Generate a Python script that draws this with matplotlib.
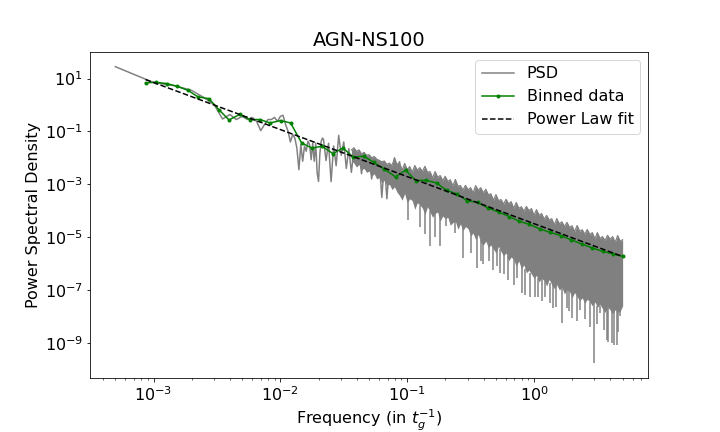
import numpy as np
import matplotlib
matplotlib.use("Agg")
import matplotlib.pyplot as plt

# ---- PSD, low frequencies (first FFT bins, f = k * 5e-4) ----
psd_freq_low = np.arange(1, 44) * 5e-4
psd_logp_low = [1.45, 0.85, 0.72, 0.55, 0.28, 0.02, -0.53, -0.36, -0.55, -0.43,
                -0.55, -0.47, -0.62, -0.97, -0.74, -0.55, -0.55, -0.47, -0.62, -0.43,
                -0.39, -0.74, -0.99, -1.40, -1.12, -1.25, -1.63, -2.45, -1.50, -2.13,
                -1.56, -1.75, -1.37, -1.50, -2.07, -1.44, -2.13, -1.44, -2.57, -2.89,
                -1.82, -1.37, -1.25]

# ---- PSD, middle frequencies (read as a zig-zag) ----
psd_logf_mid = [-1.66, -1.64, -1.62, -1.60, -1.58, -1.56, -1.54, -1.52, -1.50, -1.48,
                -1.46, -1.44, -1.42, -1.40, -1.38, -1.36, -1.34, -1.32, -1.30, -1.28,
                -1.26, -1.24, -1.22, -1.20, -1.18, -1.16, -1.14, -1.12, -1.10, -1.08,
                -1.06]
psd_logp_mid = [-1.30, -2.10, -1.45, -2.90, -1.55, -2.30, -1.15, -1.90, -1.40, -2.40,
                -1.65, -2.55, -1.70, -2.20, -1.75, -2.60, -1.80, -2.35, -1.95, -2.80,
                -2.00, -2.70, -2.10, -3.50, -2.20, -3.55, -2.25, -2.90, -2.00, -2.70,
                -2.15]

# ---- PSD, dense part: upper edge and solid floor of the noisy band ----
band_logf = [-1.44, -1.42, -1.40, -1.38, -1.36, -1.34, -1.32, -1.30, -1.28, -1.26,
             -1.24, -1.22, -1.20, -1.18, -1.16, -1.14, -1.12, -1.10, -1.08,
             -1.06, -1.04, -1.02, -1.00, -0.98, -0.96, -0.94, -0.92, -0.90, -0.88,
             -0.86, -0.84, -0.82, -0.80, -0.78, -0.76, -0.74, -0.72, -0.70, -0.68,
             -0.66, -0.64, -0.62, -0.60, -0.58, -0.56, -0.54, -0.52, -0.50, -0.48,
             -0.46, -0.44, -0.42, -0.40, -0.38, -0.36, -0.34, -0.32, -0.30, -0.28,
             -0.26, -0.24, -0.22, -0.20, -0.18, -0.16, -0.14, -0.12, -0.10, -0.08,
             -0.06, -0.04, -0.02, 0.00, 0.02, 0.04, 0.06, 0.08, 0.10, 0.12,
             0.14, 0.16, 0.18, 0.20, 0.22, 0.24, 0.26, 0.28, 0.30, 0.32,
             0.34, 0.36, 0.38, 0.40, 0.42, 0.44, 0.46, 0.48, 0.50, 0.52,
             0.54, 0.56, 0.58, 0.60, 0.62, 0.64, 0.66, 0.68, 0.699]
band_top = [-1.70, -1.62, -1.75, -1.70, -1.85, -1.80, -1.90, -1.88, -2.00, -1.95,
            -2.05, -2.10, -2.15, -2.12, -2.25, -2.20, -2.30, -2.02, -2.25,
            -2.18, -2.47, -2.21, -2.45, -2.33, -2.55, -2.29, -2.47, -2.37, -2.52,
            -2.32, -2.55, -2.52, -2.76, -2.52, -2.73, -2.67, -2.86, -2.70, -2.89,
            -2.83, -3.06, -2.82, -3.07, -3.05, -3.22, -3.04, -3.21, -3.13, -3.33,
            -3.05, -3.23, -3.13, -3.33, -3.19, -3.40, -3.36, -3.61, -3.39, -3.62,
            -3.58, -3.75, -3.57, -3.74, -3.66, -3.91, -3.69, -3.91, -3.85, -4.02,
            -3.84, -4.00, -3.92, -4.18, -3.96, -4.17, -4.11, -4.32, -4.18, -4.36,
            -4.30, -4.54, -4.30, -4.50, -4.42, -4.60, -4.44, -4.63, -4.57, -4.80,
            -4.56, -4.78, -4.72, -4.89, -4.71, -4.90, -4.83, -5.07, -4.83, -5.05,
            -4.98, -5.13, -4.93, -5.08, -4.98, -5.20, -4.94, -5.16, -5.10]
band_floor = [-2.10, -2.20, -2.35, -2.25, -2.45, -2.40, -2.55, -2.50, -2.70, -2.60,
              -2.80, -2.75, -2.95, -2.85, -3.05, -3.00, -3.20, -3.10, -3.30,
              -3.43, -3.60, -3.35, -3.70, -3.55, -3.62, -3.95, -3.70, -3.78, -3.90,
              -4.15, -3.85, -4.05, -4.25, -4.10, -4.05, -4.40, -4.20, -4.30, -4.25,
              -4.55, -4.45, -4.40, -4.70, -4.50, -4.75, -4.60, -4.68, -4.95, -4.85,
              -5.10, -4.90, -5.20, -5.30, -5.15, -5.40, -5.30, -5.45, -5.60, -5.35,
              -5.55, -5.70, -5.60, -5.90, -5.75, -5.85, -6.10, -5.90, -6.20, -6.05,
              -6.35, -6.25, -6.40, -6.55, -6.45, -6.70, -6.55, -6.65, -6.85, -6.60,
              -6.80, -6.95, -6.80, -7.00, -6.90, -7.15, -7.00, -7.05, -7.30, -7.10,
              -7.25, -7.40, -7.30, -7.50, -7.35, -7.45, -7.60, -7.45, -7.65, -7.55,
              -7.70, -7.85, -7.65, -7.75, -7.90, -7.75, -7.85, -7.80, -7.60]

# ---- PSD, deep downward spikes ----
spike_logf = [-0.993, -0.900, -0.860, -0.822, -0.780, -0.743, -0.690, -0.624, -0.559,
              -0.500, -0.453, -0.420, -0.400, -0.354, -0.327, -0.295, -0.269, -0.240,
              -0.204, -0.160, -0.137, -0.098, -0.072, -0.032, 0.007, 0.033, 0.060,
              0.086, 0.125, 0.150, 0.173, 0.218, 0.257, 0.280, 0.299, 0.336, 0.362,
              0.400, 0.441, 0.473, 0.500, 0.520, 0.550, 0.573, 0.586, 0.612, 0.631,
              0.652, 0.660, 0.678]
spike_low = [-4.34, -4.60, -4.90, -5.35, -5.00, -5.35, -4.59, -4.84, -5.79,
             -5.60, -6.17, -5.90, -6.00, -5.92, -6.23, -6.11, -6.36, -6.40,
             -6.61, -6.80, -6.55, -7.12, -7.18, -7.25, -7.25, -7.25, -7.40,
             -7.25, -7.50, -7.70, -7.63, -8.25, -7.69, -7.80, -8.05, -8.19, -7.75,
             -8.10, -8.39, -9.77, -8.30, -7.86, -8.50, -8.89, -8.95, -9.01, -9.08,
             -9.08, -8.60, -8.00]
spike_base = [-3.60, -3.80, -4.00, -4.00, -4.10, -4.15, -4.25, -4.40, -4.55,
              -4.90, -4.95, -5.10, -5.20, -5.25, -5.30, -5.40, -5.45, -5.60,
              -5.70, -5.80, -5.95, -6.10, -6.20, -6.35, -6.45, -6.55, -6.50,
              -6.65, -6.75, -6.80, -6.85, -6.90, -7.00, -7.00, -7.10, -7.20, -7.25,
              -7.40, -7.45, -7.50, -7.60, -7.60, -7.70, -7.70, -7.70, -7.75, -7.80,
              -7.80, -7.80, -7.80]

# ---- binned data ----
bin_logf = [-3.063, -2.979, -2.895, -2.816, -2.729, -2.650, -2.564, -2.485, -2.405, -2.321,
            -2.242, -2.161, -2.082, -1.998, -1.919, -1.832, -1.751, -1.672, -1.585, -1.506,
            -1.427, -1.343, -1.264, -1.182, -1.092, -1.013, -0.932, -0.851, -0.768, -0.689,
            -0.611, -0.527, -0.445, -0.360, -0.276, -0.195, -0.116, -0.037, 0.047, 0.126,
            0.211, 0.292, 0.376, 0.460, 0.542, 0.626, 0.699]
bin_logp = [0.837, 0.86, 0.81, 0.71, 0.557, 0.307, 0.24, -0.174, -0.566, -0.36,
            -0.55, -0.55, -0.68, -0.59, -0.68, -1.44, -1.63, -1.56, -1.84, -1.625,
            -1.97, -1.94, -2.17, -2.42, -2.72, -2.47, -2.86, -2.85, -2.95, -3.23,
            -3.36, -3.62, -3.69, -3.90, -4.06, -4.22, -4.40, -4.52, -4.69, -4.82,
            -4.94, -5.10, -5.26, -5.41, -5.54, -5.64, -5.73]

# ---- power law fit P = A * f^alpha ----
fit_norm = 10 ** -4.49
fit_index = -1.78

plt.rcParams["font.size"] = 16

band_f = 10 ** np.array(band_logf)
bin_f = 10 ** np.array(bin_logf)
line_f = np.concatenate([psd_freq_low, 10 ** np.array(psd_logf_mid)])
line_p = 10 ** np.concatenate([psd_logp_low, psd_logp_mid])

fig, ax = plt.subplots(figsize=(10, 6), dpi=72)
fig.subplots_adjust(left=0.125, right=0.9, top=0.88, bottom=0.125)

ax.plot(line_f, line_p, color="gray", lw=1.5, label="PSD")
ax.fill_between(band_f, 10 ** np.array(band_floor), 10 ** np.array(band_top),
                color="gray", lw=0)
ax.plot(band_f, 10 ** np.array(band_top), color="gray", lw=1.2)
ax.vlines(10 ** np.array(spike_logf), 10 ** np.array(spike_low), 10 ** np.array(spike_base),
          color="gray", lw=1.5)

ax.plot(bin_f, 10 ** np.array(bin_logp), color="green", marker=".", lw=1.5,
        label="Binned data")
ax.plot(bin_f, fit_norm * bin_f ** fit_index, "k--", lw=1.5, label="Power Law fit")

ax.set_xscale("log")
ax.set_yscale("log")
ax.set_xlabel("Frequency (in $t_g^{-1}$)")
ax.set_ylabel("Power Spectral Density")
ax.set_title("AGN-NS100")
ax.legend(loc="upper right")

plt.savefig("out.png", dpi=72)
